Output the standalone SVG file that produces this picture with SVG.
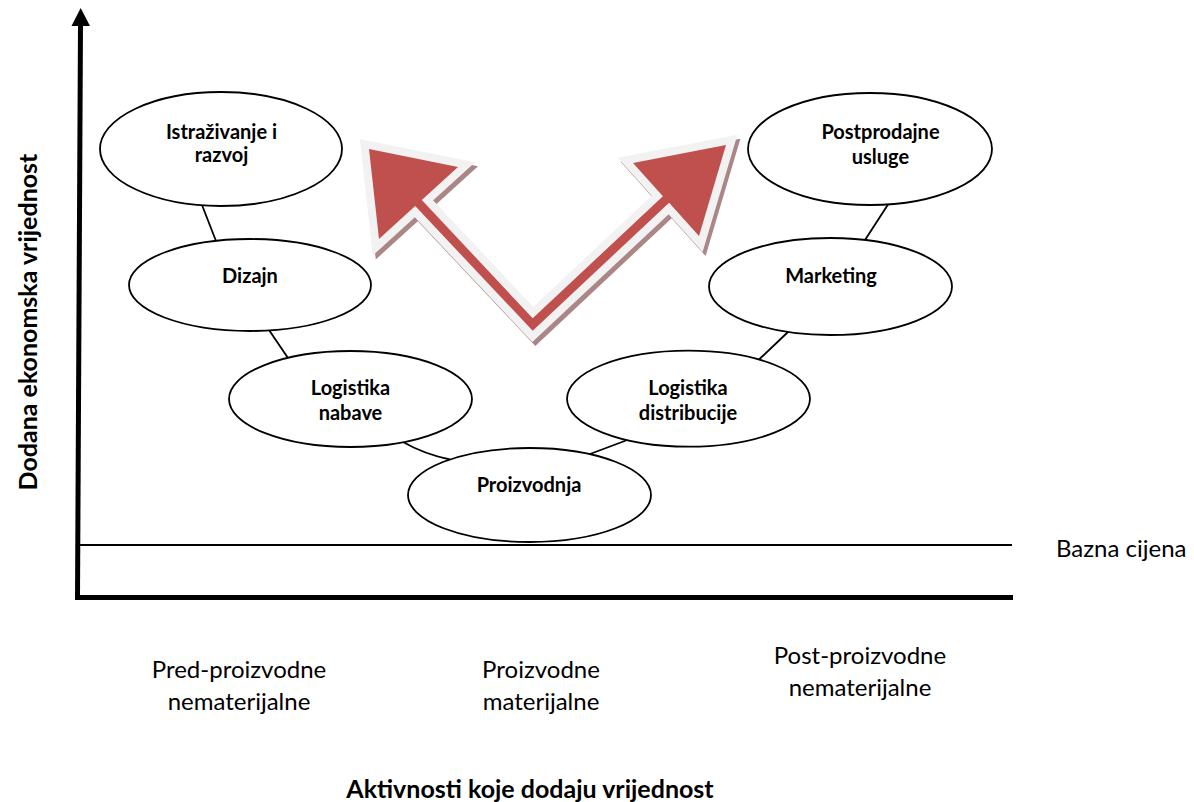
<svg xmlns="http://www.w3.org/2000/svg" width="1194" height="802" viewBox="0 0 1194 802">
  <style>
    .node ellipse { fill: #ffffff; stroke: #000000; stroke-width: 1.8; }
    .nl { font-family: Lato, "Liberation Sans", sans-serif; font-weight: bold; font-size: 20px; fill: #000; text-anchor: middle; }
    .lbl { font-family: Lato, "Liberation Sans", sans-serif; font-size: 24px; fill: #000; text-anchor: middle; }
    .axl { font-family: Lato, "Liberation Sans", sans-serif; font-weight: bold; font-size: 25px; fill: #000; text-anchor: middle; }
    .conn { stroke: #000; stroke-width: 1.8; fill: none; }
  </style>
  <defs>
    <filter id="blur" x="-10%" y="-10%" width="120%" height="120%">
      <feGaussianBlur stdDeviation="0.5"/>
    </filter>
    <polygon id="varrow" points="369,149 458,167 421.8,199.9 532.7,318.3 662.9,196.2 633,163 726,145 699,236 669.1,202.8 532.7,330.7 415.2,206.1 379,239"/>
  </defs>
  <rect width="1194" height="802" fill="#ffffff"/>

  <!-- axes -->
  <g id="axes">
    <line x1="80.5" y1="24" x2="77.5" y2="598" stroke="#000" stroke-width="5"/>
    <polygon points="80.7,8 71.5,26 90,26" fill="#000"/>
    <line x1="75" y1="597.5" x2="1013" y2="597.5" stroke="#000" stroke-width="5"/>
    <line x1="80" y1="545" x2="1012" y2="545" stroke="#000" stroke-width="2"/>
  </g>

  <!-- connectors -->
  <g id="connectors">
    <line class="conn" x1="202" y1="205" x2="216" y2="241"/>
    <line class="conn" x1="269" y1="330" x2="288" y2="358"/>
    <path class="conn" d="M403,442 Q424,454 450,459.5"/>
    <line class="conn" x1="590" y1="454" x2="626" y2="440.5"/>
    <line class="conn" x1="759" y1="359.5" x2="788" y2="332"/>
    <line class="conn" x1="865" y1="240" x2="888" y2="204.5"/>
  </g>

  <!-- red double arrow -->
  <g id="arrow">
    <use href="#varrow" transform="translate(3,4)" fill="#ac8686" stroke="#ac8686" stroke-width="16" stroke-linejoin="miter" filter="url(#blur)"/>
    <use href="#varrow" fill="#f2f2f2" stroke="#f2f2f2" stroke-width="16" stroke-linejoin="miter"/>
    <use href="#varrow" fill="#c0504d"/>
  </g>

  <g id="n-istrazivanje" class="node">
    <ellipse cx="221" cy="149" rx="121" ry="57"/>
    <text class="nl" x="221.5" y="139">Istraživanje i</text>
    <text class="nl" x="221.5" y="162">razvoj</text>
  </g>
  <g id="n-dizajn" class="node">
    <ellipse cx="250" cy="285" rx="121" ry="46"/>
    <text class="nl" x="250" y="283">Dizajn</text>
  </g>
  <g id="n-logistika-nabave" class="node">
    <ellipse cx="350.5" cy="399" rx="121.5" ry="48"/>
    <text class="nl" x="350.5" y="395">Logistika</text>
    <text class="nl" x="350.5" y="420">nabave</text>
  </g>
  <g id="n-proizvodnja" class="node">
    <ellipse cx="529.5" cy="495" rx="121.5" ry="47"/>
    <text class="nl" x="529" y="492">Proizvodnja</text>
  </g>
  <g id="n-logistika-distribucije" class="node">
    <ellipse cx="688.5" cy="398.7" rx="121.5" ry="48"/>
    <text class="nl" x="688" y="395">Logistika</text>
    <text class="nl" x="688" y="420">distribucije</text>
  </g>
  <g id="n-marketing" class="node">
    <ellipse cx="830.5" cy="286.5" rx="121.5" ry="48.5"/>
    <text class="nl" x="831" y="283">Marketing</text>
  </g>
  <g id="n-postprodajne" class="node">
    <ellipse cx="870" cy="149" rx="122" ry="56"/>
    <text class="nl" x="880.5" y="139">Postprodajne</text>
    <text class="nl" x="880.5" y="164">usluge</text>
  </g>

  <!-- labels -->
  <g id="labels">
    <text class="lbl" x="1056" y="557" style="text-anchor:start">Bazna cijena</text>
    <text class="lbl" x="239" y="678">Pred-proizvodne</text>
    <text class="lbl" x="239" y="710">nematerijalne</text>
    <text class="lbl" x="541" y="678">Proizvodne</text>
    <text class="lbl" x="541" y="710">materijalne</text>
    <text class="lbl" x="860" y="664">Post-proizvodne</text>
    <text class="lbl" x="860" y="696">nematerijalne</text>
    <text class="axl" x="530" y="798">Aktivnosti koje dodaju vrijednost</text>
    <text class="axl" transform="translate(37,322) rotate(-90)" x="0" y="0">Dodana ekonomska vrijednost</text>
  </g>
</svg>
